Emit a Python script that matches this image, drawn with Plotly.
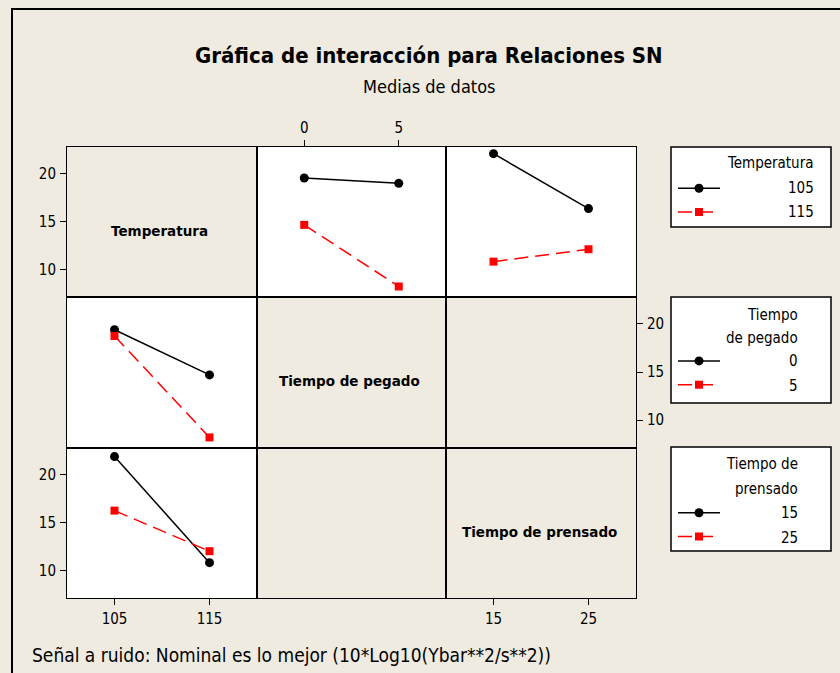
import plotly.graph_objects as go

# niveles de los factores
temp_levels = [105, 115]
pegado_levels = [0, 5]
prensado_levels = [15, 25]

# medias de SN
temp105_vs_pegado = [19.55, 19.0]
temp115_vs_pegado = [14.65, 8.2]
temp105_vs_prensado = [22.1, 16.35]
temp115_vs_prensado = [10.8, 12.1]
pegado0_vs_temp = [19.4, 14.7]
pegado5_vs_temp = [18.75, 8.2]
prensado15_vs_temp = [21.9, 10.8]
prensado25_vs_temp = [16.25, 12.0]

factor_names = ["Temperatura", "Tiempo de pegado", "Tiempo de prensado"]
legend_titles = [["Temperatura"], ["Tiempo", "de pegado"], ["Tiempo de", "prensado"]]
legend_labels = [["105", "115"], ["0", "5"], ["15", "25"]]
y_ticks = [10, 15, 20]

W, H = 840, 673
BG = "#EFEBE1"
NARROW = "DejaVu Sans Condensed, Liberation Sans, sans-serif"


def px_x(v):
    return v / W


def px_y(v):
    return 1 - v / H


col_px = [(67, 257), (257, 446), (446, 636)]
row_px = [(147, 297), (297, 448), (448, 598)]
x_ranges = [[100, 120], [-2.5, 7.5], [10, 30]]
y_range = [7.1, 22.8]

layout = {}
for r in range(3):
    for c in range(3):
        k = r * 3 + c + 1
        sfx = "" if k == 1 else str(k)
        common = dict(showgrid=False, zeroline=False, showline=True, mirror=True,
                      linecolor="black", linewidth=1, ticks="",
                      showticklabels=False, fixedrange=True)
        layout["xaxis" + sfx] = dict(common, domain=[px_x(col_px[c][0]), px_x(col_px[c][1])],
                                     range=x_ranges[c], anchor="y" + sfx)
        layout["yaxis" + sfx] = dict(common, domain=[px_y(row_px[r][1]), px_y(row_px[r][0])],
                                     range=y_range, anchor="x" + sfx)

tick_style = dict(ticks="outside", ticklen=6, tickwidth=1, tickcolor="black",
                  showticklabels=True, ticklabelstandoff=1,
                  tickfont=dict(family=NARROW, size=15, color="black"))
layout["yaxis"].update(tick_style, tickvals=y_ticks)
layout["yaxis7"].update(tick_style, tickvals=y_ticks)
layout["yaxis6"].update(tick_style, tickvals=y_ticks, side="right")
layout["xaxis2"].update(tick_style, tickvals=pegado_levels, side="top")
layout["xaxis7"].update(tick_style, tickvals=temp_levels)
layout["xaxis9"].update(tick_style, tickvals=prensado_levels)

fig = go.Figure()


def add_pair(k, xvals, y_black, y_red, names, legend, show):
    sfx = "" if k == 1 else str(k)
    fig.add_trace(go.Scatter(
        x=xvals, y=y_black, name=names[0], mode="lines+markers",
        line=dict(color="black", width=1.5),
        marker=dict(symbol="circle", size=9, color="black"),
        xaxis="x" + sfx, yaxis="y" + sfx, legend=legend, showlegend=show))
    fig.add_trace(go.Scatter(
        x=xvals, y=y_red, name=names[1], mode="lines+markers",
        line=dict(color="red", width=1.5, dash="14px,7px"),
        marker=dict(symbol="square", size=8, color="red"),
        xaxis="x" + sfx, yaxis="y" + sfx, legend=legend, showlegend=show))


add_pair(2, pegado_levels, temp105_vs_pegado, temp115_vs_pegado, legend_labels[0], "legend", True)
add_pair(3, prensado_levels, temp105_vs_prensado, temp115_vs_prensado, legend_labels[0], "legend", False)
add_pair(4, temp_levels, pegado0_vs_temp, pegado5_vs_temp, legend_labels[1], "legend2", True)
add_pair(7, temp_levels, prensado15_vs_temp, prensado25_vs_temp, legend_labels[2], "legend3", True)

# celdas sin datos: traza vacia para que se dibuje el recuadro
for k in [1, 5, 6, 8, 9]:
    sfx = "" if k == 1 else str(k)
    fig.add_trace(go.Scatter(x=[], y=[], xaxis="x" + sfx, yaxis="y" + sfx,
                             showlegend=False, hoverinfo="skip"))

# celdas blancas (las que tienen datos)
shapes = []
for r, c in [(0, 1), (0, 2), (1, 0), (2, 0)]:
    shapes.append(dict(type="rect", xref="paper", yref="paper", layer="below",
                       x0=px_x(col_px[c][0]), x1=px_x(col_px[c][1]),
                       y0=px_y(row_px[r][1]), y1=px_y(row_px[r][0]),
                       fillcolor="white", line=dict(width=0)))

# cajas de leyenda
legend_boxes = [(671, 147, 831, 227), (671, 297, 831, 403), (671, 447, 831, 551)]
for x0, y0, x1, y1 in legend_boxes:
    shapes.append(dict(type="rect", xref="paper", yref="paper", layer="below",
                       x0=px_x(x0), x1=px_x(x1), y0=px_y(y1), y1=px_y(y0),
                       fillcolor="white", line=dict(color="black", width=1.5)))

# marco exterior
shapes.append(dict(type="rect", xref="paper", yref="paper",
                   x0=px_x(12), x1=1.05, y0=-0.05, y1=px_y(9),
                   line=dict(color="black", width=2)))

annotations = [
    dict(text="<b>Gráfica de interacción para Relaciones SN</b>", x=px_x(429), y=px_y(55),
         font=dict(family=NARROW, size=22, color="black")),
    dict(text="Medias de datos", x=px_x(430), y=px_y(87),
         font=dict(family=NARROW, size=18, color="black")),
    dict(text="Señal a ruido: Nominal es lo mejor (10*Log10(Ybar**2/s**2))",
         x=px_x(30), y=px_y(655), xanchor="left",
         font=dict(family=NARROW, size=19, color="black")),
]

diag_pos = [(159, 230.5), (349, 380.7), (539, 531.7)]
for name, (x, y) in zip(factor_names, diag_pos):
    annotations.append(dict(text="<b>" + name + "</b>", x=px_x(x), y=px_y(y),
                            font=dict(family="DejaVu Sans", size=13.5, color="black")))

legend_right = [816, 800, 800]
title_rows = [[162.7], [315, 338.3], [464.3, 489.3]]
label_rows = [[188.3, 211.7], [361, 385.7], [512.7, 538.3]]
for i in range(3):
    for txt, y in zip(legend_titles[i] + legend_labels[i], title_rows[i] + label_rows[i]):
        annotations.append(dict(text=txt, x=px_x(legend_right[i]), y=px_y(y), xanchor="right",
                                font=dict(family=NARROW, size=15, color="black")))

for a in annotations:
    a.setdefault("xanchor", "center")
    a.update(xref="paper", yref="paper", showarrow=False, yanchor="middle")

leg_common = dict(xanchor="left", yanchor="top", bgcolor="rgba(0,0,0,0)", borderwidth=0,
                  font=dict(family=NARROW, size=16, color="rgba(0,0,0,0)"),
                  itemwidth=42, tracegroupgap=0, itemclick=False, itemdoubleclick=False)
layout["legend"] = dict(leg_common, x=px_x(673), y=px_y(171.4))
layout["legend2"] = dict(leg_common, x=px_x(673), y=px_y(344))
layout["legend3"] = dict(leg_common, x=px_x(673), y=px_y(495.8))

fig.update_layout(
    width=W, height=H,
    margin=dict(l=0, r=0, t=0, b=0),
    paper_bgcolor=BG, plot_bgcolor="rgba(0,0,0,0)",
    shapes=shapes, annotations=annotations,
    hovermode=False,
    **layout,
)

fig.write_html("out.html", config={"displayModeBar": False},
               post_script="document.body.style.margin='0px';")
